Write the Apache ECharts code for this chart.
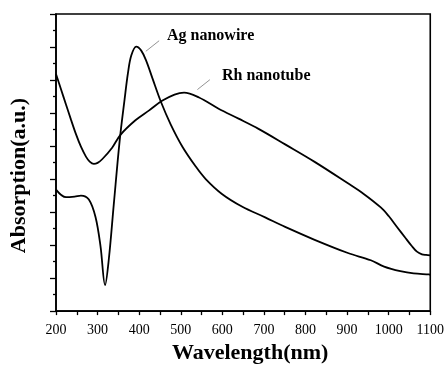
<!DOCTYPE html>
<html>
<head>
<meta charset="utf-8">
<script src="https://cdn.jsdelivr.net/npm/echarts@6/dist/echarts.min.js"></script>
<style>
html,body{margin:0;padding:0;background:#fff;}
#chart{width:447px;height:369px;}
</style>
</head>
<body>
<div id="chart"></div>
<script>
// Ag nanowire spectrum (wavelength nm, absorption a.u.)
var agWavelength = [200, 224, 245, 260, 279, 295, 307, 318, 327, 339, 353, 365, 373, 381, 393, 405, 417, 432, 452, 476, 504, 536, 560, 599, 647, 703, 751, 822, 902, 957, 989, 1028, 1060, 1097, 1100];
var agAbs        = [3.68, 3.45, 3.47, 3.50, 3.38, 2.85, 1.97, 0.79, 1.57, 3.24, 5.15, 6.42, 7.21, 7.74, 8.01, 7.89, 7.58, 7.05, 6.35, 5.65, 4.98, 4.38, 4.00, 3.55, 3.17, 2.84, 2.55, 2.16, 1.76, 1.54, 1.35, 1.21, 1.14, 1.11, 1.10];
// Rh nanotube spectrum
var rhWavelength = [200, 212, 224, 236, 248, 260, 272, 281, 291, 300, 311, 335, 355, 391, 424, 455, 485, 508, 544, 591, 639, 687, 751, 822, 902, 940, 981, 1000, 1020, 1040, 1055, 1068, 1080, 1090, 1100];
var rhAbs        = [7.18, 6.72, 6.26, 5.80, 5.36, 4.98, 4.68, 4.53, 4.46, 4.49, 4.60, 4.95, 5.34, 5.78, 6.08, 6.37, 6.56, 6.62, 6.47, 6.13, 5.83, 5.52, 5.05, 4.52, 3.87, 3.55, 3.14, 2.88, 2.55, 2.22, 1.98, 1.80, 1.72, 1.70, 1.69];
// Axis ticks
var xTicks = [200, 300, 400, 500, 600, 700, 800, 900, 1000, 1100];
var seriesNames = ['Ag nanowire', 'Rh nanotube'];
// Leader lines for labels (data coordinates)
var agLeader = [[416, 7.87], [448, 8.19]];
var rhLeader = [[540, 6.71], [570, 7.01]];

function zip(a, b) { return a.map(function (v, i) { return [v, b[i]]; }); }

var serif = '"Liberation Serif", "DejaVu Serif", serif';
var chart = echarts.init(document.getElementById('chart'), null, {renderer: 'canvas'});
chart.setOption({
  animation: false,
  backgroundColor: '#fff',
  grid: {left: 56, right: 14, top: 14, bottom: 49, show: true, borderColor: '#000', borderWidth: 1.6, backgroundColor: 'transparent'},
  xAxis: {
    type: 'value', min: xTicks[0], max: xTicks[xTicks.length - 1], interval: 100,
    axisLine: {show: true, onZero: false, lineStyle: {color: '#000', width: 1.6}},
    axisTick: {show: true, inside: false, length: 4, lineStyle: {color: '#000', width: 1.3}},
    minorTick: {show: true, splitNumber: 2, length: 4, lineStyle: {color: '#000', width: 1.3}},
    splitLine: {show: false},
    axisLabel: {color: '#000', fontFamily: serif, fontSize: 14, margin: 12, showMinLabel: true, showMaxLabel: true,
      formatter: function (v) { return String(v); }},
    name: 'Wavelength(nm)', nameLocation: 'middle', nameGap: 29,
    nameTextStyle: {color: '#000', fontFamily: serif, fontSize: 22, fontWeight: 'bold', padding: [0, 0, 0, 14]}
  },
  yAxis: {
    type: 'value', min: 0, max: 9, interval: 1,
    axisLine: {show: true, onZero: false, lineStyle: {color: '#000', width: 1.6}},
    axisTick: {show: true, inside: false, length: 6, lineStyle: {color: '#000', width: 1.3}},
    minorTick: {show: true, splitNumber: 2, length: 3, lineStyle: {color: '#000', width: 1.3}},
    splitLine: {show: false},
    axisLabel: {show: false},
    name: 'Absorption(a.u.)', nameLocation: 'middle', nameGap: 26, nameRotate: 90,
    nameTextStyle: {color: '#000', fontFamily: serif, fontSize: 22, fontWeight: 'bold', padding: [0, 26, 0, 0]}
  },
  series: [
    {
      name: seriesNames[0], type: 'line', data: zip(agWavelength, agAbs), smooth: 0.35,
      showSymbol: false, lineStyle: {color: '#000', width: 1.8}, itemStyle: {color: '#000'},
      markLine: {silent: true, symbol: 'none', label: {show: false},
        lineStyle: {color: '#777', width: 0.8, type: 'solid'},
        data: [[{coord: agLeader[0]}, {coord: agLeader[1]}]]}
    },
    {
      name: seriesNames[1], type: 'line', data: zip(rhWavelength, rhAbs), smooth: 0.35,
      showSymbol: false, lineStyle: {color: '#000', width: 1.8}, itemStyle: {color: '#000'},
      markLine: {silent: true, symbol: 'none', label: {show: false},
        lineStyle: {color: '#777', width: 0.8, type: 'solid'},
        data: [[{coord: rhLeader[0]}, {coord: rhLeader[1]}]]}
    }
  ],
  graphic: [
    {type: 'text', left: 167, top: 28, style: {text: seriesNames[0], fill: '#000', font: 'bold 16px ' + serif}},
    {type: 'text', left: 222, top: 68, style: {text: seriesNames[1], fill: '#000', font: 'bold 16px ' + serif}}
  ]
});
</script>
</body>
</html>
